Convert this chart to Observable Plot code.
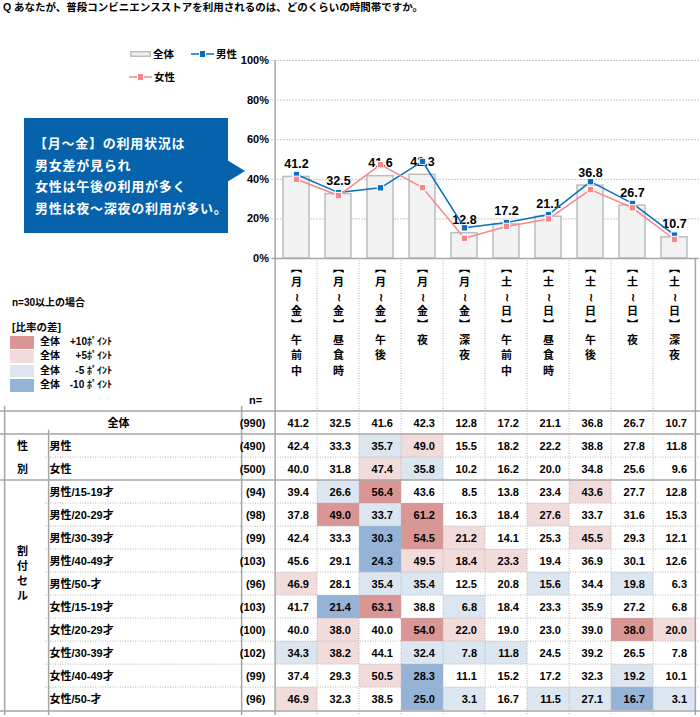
<!DOCTYPE html>
<html><head><meta charset="utf-8">
<script src="https://cdn.jsdelivr.net/npm/d3@7"></script>
<script src="https://cdn.jsdelivr.net/npm/@observablehq/plot@0.6"></script>
<style>
body{margin:0;background:#fff;}
#root{position:relative;width:700px;height:717px;overflow:hidden;font-family:"Liberation Sans","Noto Sans CJK JP",sans-serif;font-weight:bold;color:#000;}
#root svg{overflow:visible;}
.abs{position:absolute;white-space:nowrap;}
</style></head><body><div id="root"></div>
<script>
// ---------- data ----------
const titleText = "Q あなたが、普段コンビニエンスストアを利用されるのは、どのくらいの時間帯ですか。";
const slotLabels = ["【月～金】午前中","【月～金】昼食時","【月～金】午後","【月～金】夜","【月～金】深夜",
                    "【土～日】午前中","【土～日】昼食時","【土～日】午後","【土～日】夜","【土～日】深夜"];
const totalValues  = [41.2, 32.5, 41.6, 42.3, 12.8, 17.2, 21.1, 36.8, 26.7, 10.7];
const maleValues   = [42.4, 33.3, 35.7, 49.0, 15.5, 18.2, 22.2, 38.8, 27.8, 11.8];
const femaleValues = [40.0, 31.8, 47.4, 35.8, 10.2, 16.2, 20.0, 34.8, 25.6, 9.6];
const m1519 = [39.4, 26.6, 56.4, 43.6, 8.5, 13.8, 23.4, 43.6, 27.7, 12.8];
const m2029 = [37.8, 49.0, 33.7, 61.2, 16.3, 18.4, 27.6, 33.7, 31.6, 15.3];
const m3039 = [42.4, 33.3, 30.3, 54.5, 21.2, 14.1, 25.3, 45.5, 29.3, 12.1];
const m4049 = [45.6, 29.1, 24.3, 49.5, 18.4, 23.3, 19.4, 36.9, 30.1, 12.6];
const m50   = [46.9, 28.1, 35.4, 35.4, 12.5, 20.8, 15.6, 34.4, 19.8, 6.3];
const f1519 = [41.7, 21.4, 63.1, 38.8, 6.8, 18.4, 23.3, 35.9, 27.2, 6.8];
const f2029 = [40.0, 38.0, 40.0, 54.0, 22.0, 19.0, 23.0, 39.0, 38.0, 20.0];
const f3039 = [34.3, 38.2, 44.1, 32.4, 7.8, 11.8, 24.5, 39.2, 26.5, 7.8];
const f4049 = [37.4, 29.3, 50.5, 28.3, 11.1, 15.2, 17.2, 32.3, 19.2, 10.1];
const f50   = [46.9, 32.3, 38.5, 25.0, 3.1, 16.7, 11.5, 27.1, 16.7, 3.1];
const rowLabels = ["全体","男性","女性","男性/15-19才","男性/20-29才","男性/30-39才","男性/40-49才","男性/50-才",
                   "女性/15-19才","女性/20-29才","女性/30-39才","女性/40-49才","女性/50-才"];
const rowN = [990, 490, 500, 94, 98, 99, 103, 96, 103, 100, 102, 99, 96];
const rowGroup = ["", "性別", "性別", "割付セル","割付セル","割付セル","割付セル","割付セル","割付セル","割付セル","割付セル","割付セル","割付セル"];
const tableRows = [totalValues, maleValues, femaleValues, m1519, m2029, m3039, m4049, m50, f1519, f2029, f3039, f4049, f50];
const diffCats = ["+10","+5","-5","-10"];
const diffColors = ["#da9694","#f2dcdb","#dce6f1","#95b3d7"];
const diffLegend = ["+10ﾎﾟｲﾝﾄ","+5ﾎﾟｲﾝﾄ","-5 ﾎﾟｲﾝﾄ","-10 ﾎﾟｲﾝﾄ"];
const seriesNames = ["全体","男性","女性"];
const calloutLines = ["【月～金】の利用状況は","男女差が見られ","女性は午後の利用が多く","男性は夜～深夜の利用が多い。"];

// ---------- setup ----------
const FONT = '"Liberation Sans","Noto Sans CJK JP",sans-serif';
const BLUE = "#0a6fc0", PINK = "#f7868a";
const GRAY = "#a6a6a6", DOT = "#b5b5b5";
const W = 700, LEFT = 271.5, RIGHT = 1;
const colStep = (W - LEFT - RIGHT) / slotLabels.length;
const root = document.getElementById("root");
function place(el, top, left) {
  const d = document.createElement("div");
  d.className = "abs"; d.style.top = top + "px"; d.style.left = left + "px";
  d.appendChild(el); root.appendChild(d); return d;
}

// ---------- chart ----------
const chartData = slotLabels.map((s, i) => ({slot: s, total: totalValues[i], male: maleValues[i], female: femaleValues[i]}));
const chart = Plot.plot({
  width: W, height: 260, marginLeft: LEFT, marginRight: RIGHT, marginTop: 60, marginBottom: 2,
  style: {fontFamily: FONT, background: "transparent", overflow: "visible"},
  x: {domain: slotLabels, paddingInner: 0.39, paddingOuter: 0.195, axis: null},
  y: {domain: [0, 100], axis: null},
  marks: [
    Plot.gridY([20, 40, 60, 80, 100], {stroke: "#8f8f8f", strokeOpacity: 1, strokeDasharray: "1,2"}),
    Plot.barY(chartData, {x: "slot", y: "total", fill: "#f2f2f2", stroke: "#bdbdbd", strokeWidth: 1.5}),
    Plot.ruleY([0], {stroke: GRAY, strokeWidth: 1.5}),
    Plot.ruleX([slotLabels[0]], {dx: -colStep / 2, stroke: GRAY, strokeWidth: 1.5}),
    Plot.axisY({ticks: [0, 20, 40, 60, 80, 100], tickFormat: d => d + "%", tickSize: 0, tickPadding: 3, fontSize: 11, fontWeight: "bold", fill: "#000"}),
    Plot.text(chartData, {x: "slot", y: "total", text: d => d.total.toFixed(1), dy: -13, fontSize: 12.5, fontWeight: "bold", fill: "#000"}),
    Plot.line(chartData, {x: "slot", y: "male", stroke: BLUE, strokeWidth: 1.5}),
    Plot.line(chartData, {x: "slot", y: "female", stroke: PINK, strokeWidth: 1.5}),
    Plot.dot(chartData, {x: "slot", y: "male", symbol: "square", r: 3.6, fill: BLUE, stroke: "#fff", strokeWidth: 1}),
    Plot.dot(chartData, {x: "slot", y: "female", symbol: "square", r: 3.6, fill: PINK, stroke: "#fff", strokeWidth: 1})
  ]
});

// ---------- table ----------
const TOPM = 148, BOTM = 2, TH = 459;
const rowStep = (TH - TOPM - BOTM) / rowLabels.length;
const cells = [];
tableRows.forEach((vals, r) => vals.forEach((v, c) => {
  const diff = Math.round((v - totalValues[c]) * 10) / 10;
  const cat = diff >= 10 ? "+10" : diff >= 5 ? "+5" : diff <= -10 ? "-10" : diff <= -5 ? "-5" : null;
  cells.push({row: rowLabels[r], slot: slotLabels[c], value: v, cat});
}));
const rowsMeta = rowLabels.map((l, i) => ({row: l, n: rowN[i], group: rowGroup[i], i}));
const dottedRows = rowsMeta.filter(d => d.i > 0 && d.group && rowGroup[d.i - 1] === d.group).map(d => d.row);
const solidRows = rowsMeta.filter(d => d.i === 0 || rowGroup[d.i - 1] !== d.group).map(d => d.row);
const toVert = s => s.slice(0, 5).replace("【", "︻").replace("】", "︼").replace("～", "≀").split("").join("\n");
const txt = {fontSize: 11, fontWeight: "bold", fill: "#000"};

const table = Plot.plot({
  width: W, height: TH, marginLeft: LEFT, marginRight: RIGHT, marginTop: TOPM, marginBottom: BOTM,
  style: {fontFamily: FONT, background: "transparent", overflow: "visible"},
  x: {domain: slotLabels, padding: 0, axis: null},
  y: {domain: rowLabels, padding: 0, axis: null},
  color: {domain: diffCats, range: diffColors},
  marks: [
    Plot.cell(cells.filter(d => d.cat), {x: "slot", y: "row", fill: "cat", inset: 0}),
    Plot.ruleY(dottedRows, {dy: -rowStep / 2, insetLeft: -(LEFT - 45), stroke: DOT, strokeDasharray: "1,1.5"}),
    Plot.ruleX(slotLabels.slice(1), {dx: -colStep / 2, insetTop: -TOPM, stroke: DOT, strokeDasharray: "1,1.5"}),
    Plot.ruleY(solidRows, {dy: -rowStep / 2, insetLeft: -LEFT, insetRight: -RIGHT, stroke: GRAY, strokeWidth: 1.5}),
    Plot.ruleY([rowLabels[rowLabels.length - 1]], {dy: rowStep / 2, insetLeft: -LEFT, insetRight: -RIGHT, stroke: GRAY, strokeWidth: 1.5}),
    Plot.ruleX([slotLabels[0]], {dx: -colStep / 2, insetTop: -TOPM, stroke: GRAY, strokeWidth: 1.5}),
    Plot.ruleX([slotLabels[slotLabels.length - 1]], {dx: colStep / 2 - 0.5, insetTop: -TOPM, stroke: GRAY, strokeWidth: 1.5}),
    Plot.ruleX([slotLabels[0]], {dx: -colStep / 2 - 33.5, stroke: GRAY, strokeWidth: 1.5}),
    Plot.ruleX([slotLabels[0]], {dx: -colStep / 2 - 226.5, insetTop: rowStep, stroke: GRAY, strokeWidth: 1.5}),
    Plot.ruleX([slotLabels[0]], {dx: -colStep / 2 - 270.5, stroke: GRAY, strokeWidth: 1.5}),
    Plot.text(cells, {x: "slot", y: "row", text: d => d.value.toFixed(1), textAnchor: "end", dx: 12.5, ...txt}),
    Plot.text(rowsMeta.filter(d => d.i > 0), {y: "row", frameAnchor: "left", text: "row", textAnchor: "start", dx: 49 - LEFT, ...txt}),
    Plot.text(rowsMeta.filter(d => d.i === 0), {y: "row", frameAnchor: "left", text: "row", textAnchor: "middle", dx: 118 - LEFT, ...txt}),
    Plot.text(rowsMeta, {y: "row", frameAnchor: "left", text: d => `(${d.n})`, textAnchor: "end", dx: -6.5, ...txt}),
    Plot.text(rowsMeta.filter(d => d.group === "性別"), {y: "row", frameAnchor: "left", text: d => d.group[d.i - 1], textAnchor: "middle", dx: 22 - LEFT, ...txt}),
    Plot.text([rowLabels[6]], {y: d => d, frameAnchor: "left", text: () => "割付セル".split("").join("\n"), textAnchor: "middle", dx: 22 - LEFT, dy: rowStep / 2, lineHeight: 1.34, ...txt}),
    Plot.text(slotLabels, {x: d => d, frameAnchor: "top", text: toVert, lineAnchor: "top", lineHeight: 14.2 / 11, dy: -144.4, ...txt}),
    Plot.text(slotLabels, {x: d => d, frameAnchor: "top", text: d => d.slice(5).split("").join("\n"), lineAnchor: "top", lineHeight: 15.3 / 11, dy: -73.4, ...txt}),
    Plot.text(["n="], {frameAnchor: "top-left", text: d => d, textAnchor: "middle", dx: -16.5, dy: -10, ...txt})
  ]
});

place(chart, 0, 0);
place(table, 258, 0);

// ---------- html overlays ----------
function div(html, css) { const d = document.createElement("div"); d.className = "abs"; d.style.cssText += css; d.innerHTML = html; root.appendChild(d); return d; }
div(titleText, "left:3px;top:0px;font-size:10.5px;letter-spacing:0px;line-height:14px;");

// series legend
function swatch(kind, color) {
  if (kind === "bar") return `<svg width="21" height="8"><rect x="0.75" y="1.75" width="19.5" height="4.5" fill="#f0f0f0" stroke="#bdbdbd" stroke-width="1.5"/></svg>`;
  return `<svg width="23" height="8"><line x1="0" x2="23" y1="4" y2="4" stroke="${color}" stroke-width="1.5"/><rect x="8.5" y="0.5" width="6" height="7" fill="${color}" stroke="#fff" stroke-width="1"/></svg>`;
}
const legendItems = [
  {name: seriesNames[0], kind: "bar", color: null, left: 130, top: 54},
  {name: seriesNames[1], kind: "line", color: BLUE, left: 191, top: 54},
  {name: seriesNames[2], kind: "line", color: PINK, left: 129, top: 77}
];
legendItems.forEach(it => {
  div(swatch(it.kind, it.color), `left:${it.left}px;top:${it.top - 4}px;line-height:0;`);
  div(it.name, `left:${it.left + (it.kind === "bar" ? 23 : 25)}px;top:${it.top - 7}px;font-size:10.5px;line-height:14px;`);
});

// callout
div("", "left:24px;top:118px;width:204px;height:115px;background:#0562ab;");
div("", "left:227px;top:159.5px;width:0;height:0;border-left:18px solid #0562ab;border-top:11px solid transparent;border-bottom:11px solid transparent;");
calloutLines.forEach((l, i) => div(l, `left:${i === 0 ? 34 : 35}px;top:${132 + i * 21.5}px;color:#fff;font-size:13px;letter-spacing:0.75px;line-height:21px;font-family:'Noto Sans CJK JP',sans-serif;`));

// color legend
div("n=30以上の場合", "left:12px;top:296px;font-size:10px;line-height:14px;");
div("[比率の差]", "left:12px;top:320px;font-size:10.5px;line-height:14px;");
const swTops = [336, 350, 364.5, 379];
diffCats.forEach((c, i) => {
  div("", `left:10px;top:${swTops[i]}px;width:24px;height:12.5px;background:${diffColors[i]};`);
  div("全体", `left:40px;top:${swTops[i] - 1}px;font-size:10px;line-height:14px;`);
  div(diffLegend[i], `left:60px;width:52px;text-align:right;top:${swTops[i] - 1}px;font-size:10px;line-height:14px;`);
});
</script></body></html>
